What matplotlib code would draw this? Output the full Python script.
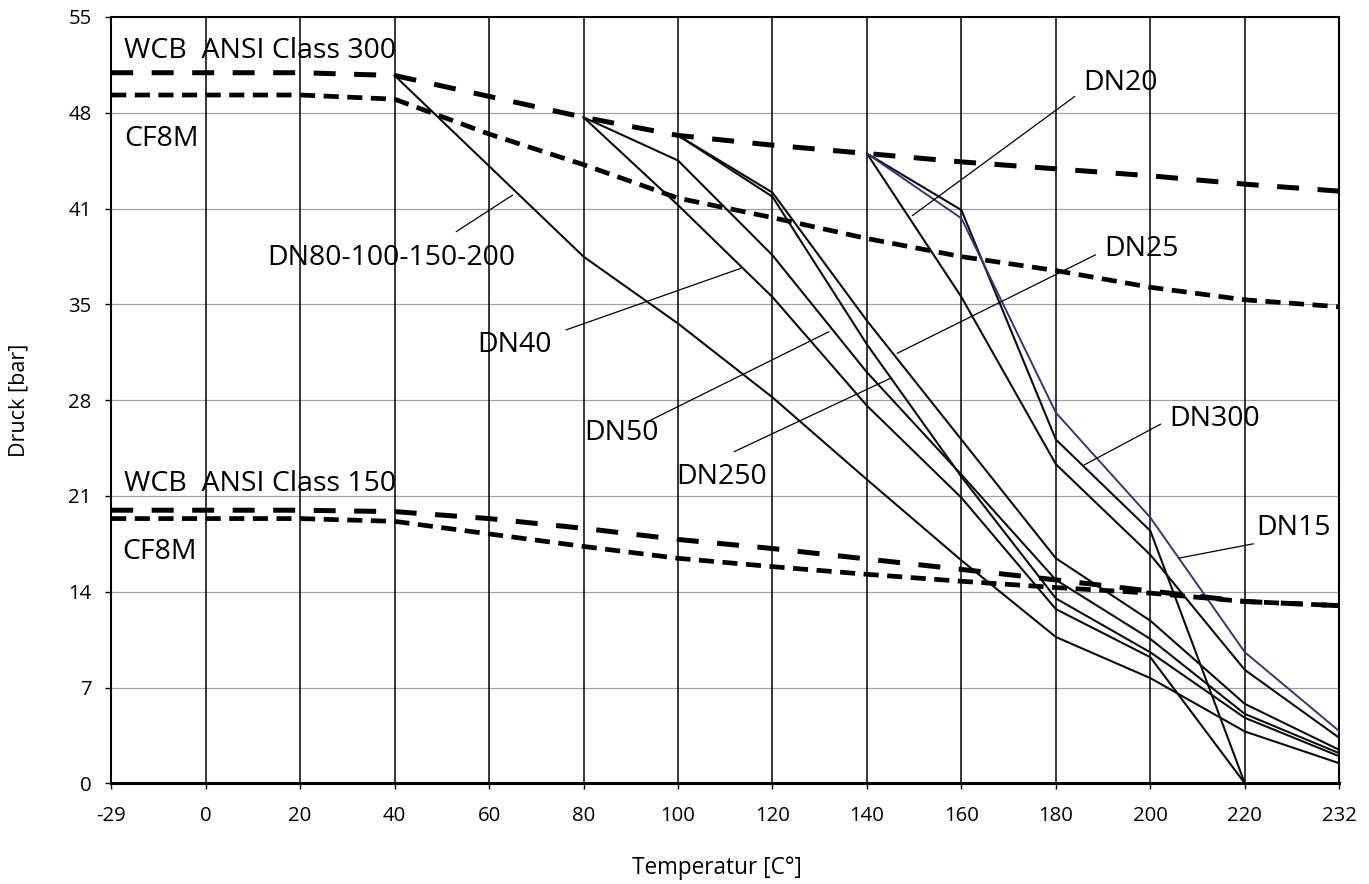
import matplotlib

matplotlib.use("Agg")

import matplotlib.pyplot as plt
import numpy as np

plt.rcParams["font.family"] = ["Open Sans", "DejaVu Sans"]

nan = np.nan

# temperature categories (evenly spaced on the chart)
temps = ["-29", "0", "20", "40", "60", "80", "100", "120", "140", "160", "180", "200", "220", "232"]

# flange ratings [bar]
wcb300 = [51.0, 51.0, 51.0, 50.8, 49.3, 47.8, 46.5, 45.8, 45.2, 44.6, 44.1, 43.6, 43.0, 42.5]
cf8m300 = [49.4, 49.4, 49.4, 49.1, 46.6, 44.4, 42.0, 40.6, 39.1, 37.8, 36.8, 35.6, 34.7, 34.2]
wcb150 = [19.6, 19.6, 19.6, 19.5, 19.0, 18.3, 17.5, 16.85, 16.1, 15.35, 14.6, 13.8, 13.05, 12.75]
cf8m150 = [19.0, 19.0, 19.0, 18.8, 17.9, 17.0, 16.15, 15.55, 15.0, 14.5, 14.05, 13.65, 13.05, 12.75]

# valve curves per nominal size [bar]
dn80 = [nan, nan, nan, 50.8, 44.3, 37.8, 33.0, 27.7, 21.8, 16.0, 10.5, 7.55, 3.72, 1.44]
dn40 = [nan, nan, nan, nan, nan, 47.8, 41.5, 34.9, 27.1, 20.5, 12.5, 9.05, 0.0, 0.0]
dn50 = [nan, nan, nan, nan, nan, 47.8, 44.7, 37.9, 29.5, 22.15, 14.6, 10.36, 4.98, 2.16]
dn25 = [nan, nan, nan, nan, nan, nan, 46.5, 42.4, 33.2, 24.67, 16.15, 11.67, 5.70, 2.40]
dn250 = [nan, nan, nan, nan, nan, nan, 46.5, 42.1, 31.5, 22.0, 13.27, 9.4, 4.70, 1.94]
dn15 = [nan, nan, nan, nan, nan, nan, nan, nan, 45.2, 40.55, 26.6, 19.07, 9.41, 3.74]
dn20 = [nan, nan, nan, nan, nan, nan, nan, nan, 45.2, 34.9, 22.9, 16.4, 8.14, 3.26]
dn300 = [nan, nan, nan, nan, nan, nan, nan, nan, 45.2, 41.14, 24.67, 18.12, 0.0, 0.0]

ytick_vals = np.linspace(0, 55, 9)
ytick_labels = ["0", "7", "14", "21", "28", "35", "41", "48", "55"]

x = np.arange(len(temps))

fig = plt.figure(figsize=(13.69, 8.84), dpi=100)
ax = fig.add_axes([0.0812, 0.1139, 0.8971, 0.8669])

# grid
for xi in x:
    ax.axvline(xi, color="black", lw=1.1, zorder=1)
for yv in ytick_vals[1:-1]:
    ax.axhline(yv, color="#a0a0a0", lw=0.9, zorder=0.5)

# valve lines
navy = "#35357f"
for s in [dn80, dn40, dn50, dn25, dn250, dn20, dn300]:
    ax.plot(x, s, color="#0a0a14", lw=1.5, zorder=3)
ax.plot(x, dn15, color=navy, lw=1.4, zorder=3)

# flange rating lines
long_dash = (0, (4.4, 3.7))
short_dash = (0, (3.2, 1.8))
ax.plot(x, wcb300, color="black", lw=3.6, linestyle=long_dash, zorder=4)
ax.plot(x, cf8m300, color="black", lw=3.4, linestyle=short_dash, zorder=4)
ax.plot(x, wcb150, color="black", lw=3.6, linestyle=long_dash, zorder=4)
ax.plot(x, cf8m150, color="black", lw=3.4, linestyle=short_dash, zorder=4)

# labels
fs = 20.5
ax.text(0.14, 52.04, "WCB  ANSI Class 300", fontsize=fs, va="baseline")
ax.text(0.14, 45.76, "CF8M", fontsize=fs, va="baseline")
ax.text(0.14, 20.98, "WCB  ANSI Class 150", fontsize=fs, va="baseline")
ax.text(0.12, 16.07, "CF8M", fontsize=fs, va="baseline")

labels = [
    ("DN80-100-150-200", 1.655, 37.19, "left", (3.652, 39.59), (4.25, 42.22)),
    ("DN40", 3.88, 30.98, "left", (4.815, 32.54), (6.665, 36.96)),
    ("DN50", 5.01, 24.62, "left", (5.70, 26.03), (7.598, 32.41)),
    ("DN250", 6.94, 21.48, "right", (6.594, 23.80), (8.25, 29.07)),
    ("DN25", 10.51, 37.81, "left", (10.42, 37.93), (8.32, 30.86)),
    ("DN20", 10.29, 49.76, "left", (10.2, 49.3), (8.48, 40.74)),
    ("DN300", 11.2, 25.64, "left", (11.11, 25.78), (10.30, 22.85)),
    ("DN15", 12.12, 17.83, "left", (12.09, 17.19), (11.30, 16.16)),
]
for txt, tx, ty, ha, p0, p1 in labels:
    ax.text(tx, ty, txt, fontsize=fs, va="baseline", ha=ha, zorder=6)
    ax.annotate("", xy=p1, xytext=p0,
                arrowprops=dict(arrowstyle="-", color="black", lw=0.9,
                                shrinkA=0, shrinkB=0), zorder=5)

ax.set_xlim(0, len(temps) - 1)
ax.set_ylim(0, 55)
ax.set_xticks(x)
ax.set_xticklabels(temps)
ax.set_yticks(ytick_vals)
ax.set_yticklabels(ytick_labels)
ax.tick_params(axis="x", direction="out", length=4, width=1, pad=12, labelsize=14.7)
ax.tick_params(axis="y", direction="out", length=4, width=1, pad=10, labelsize=14.7)

for side in ["left", "top", "right"]:
    ax.spines[side].set_linewidth(1.5)
ax.spines["bottom"].set_linewidth(2.2)

fig.text(19 / 1369, 1 - 400 / 884, "Druck [bar]", rotation=90, fontsize=15.5,
         ha="center", va="center")
fig.text(717 / 1369, 1 - 868 / 884, "Temperatur [C°]", fontsize=16.3,
         ha="center", va="center")

fig.savefig("out.png", dpi=100)
plt.close(fig)
